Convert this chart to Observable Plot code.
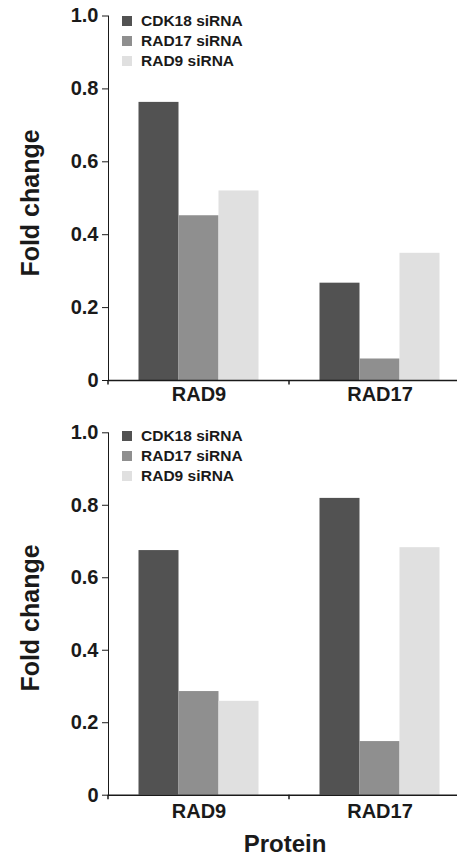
<!DOCTYPE html>
<html>
<head>
<meta charset="utf-8">
<script src="https://cdn.jsdelivr.net/npm/d3@7"></script>
<script src="https://cdn.jsdelivr.net/npm/@observablehq/plot@0.6"></script>
<style>
  html, body { margin: 0; padding: 0; background: #fff; }
  #wrap { position: relative; width: 457px; height: 858px; overflow: hidden; background: #fff;
          font-family: "Liberation Sans", Arial, sans-serif; font-weight: bold; color: #1a1a1a; }
  .panel { position: absolute; left: 0; }
  .panel svg { overflow: hidden; }
  .panel svg path.domain, .panel svg .tick line { stroke-width: 1.5px; }
  .legend-row { position: absolute; left: 122px; height: 20px; display: flex; align-items: center;
                font-size: 15.5px; white-space: nowrap; }
  .legend-row .sw { width: 10px; height: 10px; margin-right: 9px; }
  .ylab { position: absolute; font-size: 25px; white-space: nowrap; transform: translate(-50%, -50%) rotate(-90deg); }
  .xlab { position: absolute; font-size: 24px; white-space: nowrap; transform: translate(-50%, -50%); }
</style>
</head>
<body>
<div id="wrap"></div>
<script>
// ---- data ----
const proteins = ["RAD9", "RAD17"];
const treatments = ["CDK18 siRNA", "RAD17 siRNA", "RAD9 siRNA"];
const colors = ["#525252", "#8f8f8f", "#e0e0e0"];
const yTicks = [0, 0.2, 0.4, 0.6, 0.8, 1.0];
const yTickLabels = ["0", "0.2", "0.4", "0.6", "0.8", "1.0"];
const yLabel = "Fold change";
const xLabel = "Protein";

// top panel, values per protein [RAD9, RAD17]
const top_CDK18 = [0.763, 0.267];
const top_RAD17 = [0.452, 0.059];
const top_RAD9  = [0.520, 0.349];
// bottom panel
const bot_CDK18 = [0.675, 0.819];
const bot_RAD17 = [0.286, 0.148];
const bot_RAD9  = [0.259, 0.683];

const wrap = document.getElementById("wrap");

function buildRows(series) {
  const rows = [];
  proteins.forEach((p, i) => treatments.forEach((t, j) => rows.push({protein: p, treatment: t, value: series[j][i]})));
  return rows;
}

function makePanel(series, cfg) {
  const data = buildRows(series);
  const plot = Plot.plot({
    width: 457,
    height: cfg.height,
    marginLeft: 107.5,
    marginRight: -12.5,
    marginTop: cfg.mt,
    marginBottom: cfg.mb,
    style: {fontFamily: "'Liberation Sans', Arial, sans-serif", fontSize: "20px", fontWeight: "bold",
            color: "#1a1a1a", background: "transparent"},
    facet: {data, x: "protein"},
    fx: {domain: proteins, padding: 0, axis: "bottom", tickSize: 0, tickPadding: cfg.tp, label: null},
    x: {domain: treatments, paddingInner: 0, paddingOuter: 0.725, axis: null},
    y: {domain: [0, 1], ticks: yTicks, tickFormat: d => yTickLabels[yTicks.indexOf(d)],
        tickSize: 6, tickPadding: 4, line: true, label: null},
    color: {domain: treatments, range: colors},
    marks: [
      Plot.barY(data, {x: "treatment", y: "value", fill: "treatment"}),
      Plot.ruleY([0], {strokeWidth: 1.5})
    ]
  });
  // small tick marks at category boundaries, positioned through the fx / y scales
  try {
    const fx = plot.scale("fx"), y = plot.scale("y");
    const bw = fx.bandwidth ?? 0;
    const bounds = proteins.map(p => fx.apply(p)).concat([fx.apply(proteins[proteins.length - 1]) + bw]);
    const y0 = y.apply(0);
    d3.select(plot).append("g").attr("stroke", "#1a1a1a").attr("stroke-width", 1.5)
      .selectAll("line").data(bounds).join("line")
      .attr("x1", d => d).attr("x2", d => d).attr("y1", y0).attr("y2", y0 + 4.5);
  } catch (e) { console.error(e); }

  const div = document.createElement("div");
  div.className = "panel";
  div.style.top = cfg.top + "px";
  div.appendChild(plot);
  wrap.appendChild(div);

  treatments.forEach((t, i) => {
    const row = document.createElement("div");
    row.className = "legend-row";
    row.style.top = (cfg.legendTop + i * 20) + "px";
    const sw = document.createElement("span");
    sw.className = "sw";
    sw.style.background = colors[i];
    row.appendChild(sw);
    row.appendChild(document.createTextNode(t));
    wrap.appendChild(row);
  });

  const yl = document.createElement("div");
  yl.className = "ylab";
  yl.textContent = yLabel;
  yl.style.left = "30px";
  yl.style.top = cfg.ylabY + "px";
  wrap.appendChild(yl);
}

makePanel([top_CDK18, top_RAD17, top_RAD9], {top: 0, height: 410, mt: 15.5, mb: 30, tp: 6, legendTop: 11, ylabY: 202.5});
makePanel([bot_CDK18, bot_RAD17, bot_RAD9], {top: 410, height: 448, mt: 22.3, mb: 63.3, tp: 9, legendTop: 426, ylabY: 618});

const xl = document.createElement("div");
xl.className = "xlab";
xl.textContent = xLabel;
xl.style.left = "285px";
xl.style.top = "844px";
wrap.appendChild(xl);
</script>
</body>
</html>
